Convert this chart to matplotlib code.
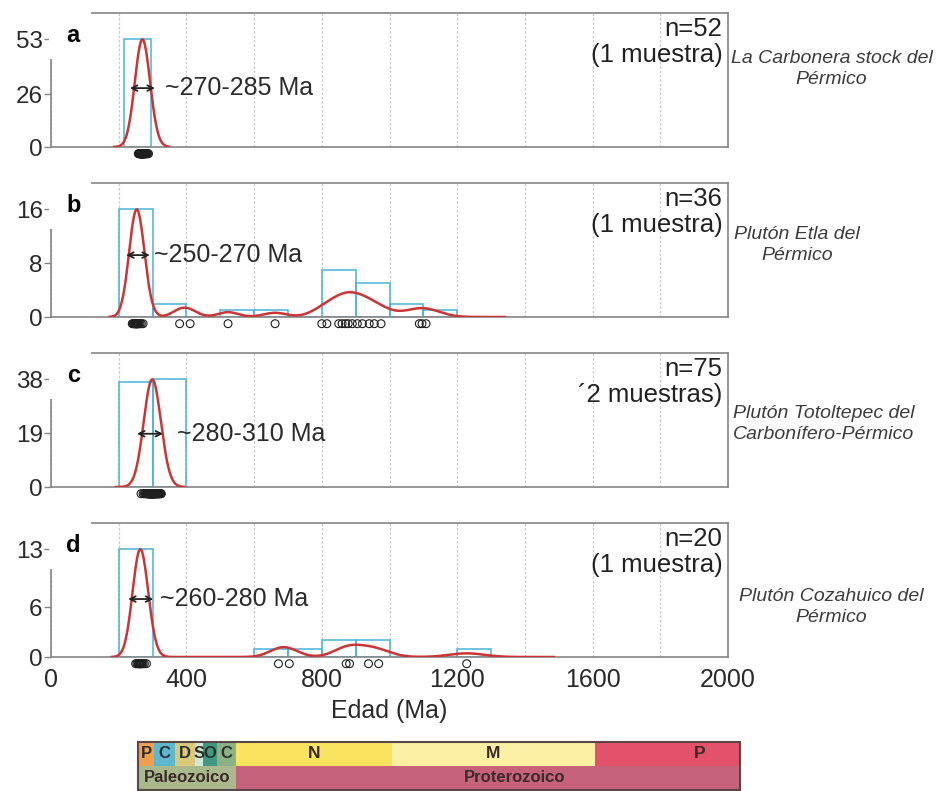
import numpy as np
import matplotlib.pyplot as plt
import matplotlib.transforms as mtransforms
from matplotlib.patches import Rectangle

plt.rcParams['font.family'] = ['Liberation Sans', 'DejaVu Sans']

# --- data ---------------------------------------------------------------
# panel a: La Carbonera stock (n=52)
a_ages = [258, 260, 261, 262, 263, 263, 264, 264, 265, 265, 265, 266, 266, 266,
          267, 267, 267, 267, 268, 268, 268, 268, 269, 269, 269, 269, 270, 270,
          270, 270, 271, 271, 271, 272, 272, 272, 273, 273, 274, 274, 275, 275,
          276, 277, 277, 278, 279, 280, 281, 283, 285, 288]
a_edges = [216, 296]
a_counts = [53]
a_yticks = [0, 26, 53]

# panel b: Pluton Etla (n=36)
b_ages = [240, 243, 245, 247, 249, 250, 251, 252, 253, 254, 255, 256, 258, 260,
          263, 267, 272, 380, 411, 523, 662, 800, 815, 850, 860, 870, 878, 890,
          905, 920, 940, 955, 975, 1088, 1096, 1108]
b_edges = [200, 300, 400, 500, 600, 700, 800, 900, 1000, 1100, 1200]
b_counts = [16, 2, 0, 1, 1, 0, 7, 5, 2, 1]
b_yticks = [0, 8, 16]

# panel c: Pluton Totoltepec (n=75)
c_ages = [266, 272, 276, 279, 281, 283, 284, 285, 286, 287, 288, 289, 289, 290,
          290, 291, 291, 292, 292, 293, 293, 293, 294, 294, 294, 295, 295, 295,
          296, 296, 296, 297, 297, 297, 298, 298, 299,
          300, 300, 300, 301, 301, 301, 302, 302, 302, 303, 303, 303, 304, 304,
          305, 305, 306, 306, 307, 307, 308, 308, 309, 310, 310, 311, 312, 313,
          314, 315, 316, 317, 318, 319, 320, 322, 324, 326]
c_edges = [200, 300, 400]
c_counts = [37, 38]
c_yticks = [0, 19, 38]

# panel d: Pluton Cozahuico (n=20)
d_ages = [250, 254, 257, 259, 261, 262, 264, 265, 267, 269, 272, 276, 282,
          672, 704, 872, 882, 938, 968, 1228]
d_edges = [200, 300, 400, 500, 600, 700, 800, 900, 1000, 1100, 1200, 1300]
d_counts = [13, 0, 0, 0, 1, 1, 2, 2, 0, 0, 1]
d_yticks = [0, 6, 13]

letters = ['a', 'b', 'c', 'd']
n_labels = ['n=52', 'n=36', 'n=75', 'n=20']
sample_labels = ['(1 muestra)', '(1 muestra)', '´2 muestras)', '(1 muestra)']
unit_labels = ['La Carbonera stock del\nPérmico',
               'Plutón Etla del\nPérmico',
               'Plutón Totoltepec del\nCarbonífero-Pérmico',
               'Plutón Cozahuico del\nPérmico']
range_labels = ['~270-285 Ma', '~250-270 Ma', '~280-310 Ma', '~260-280 Ma']

# geologic time scale (Ma)
period_names = ['P', 'C', 'D', 'S', 'O', 'C']
period_bounds = [252, 299, 359, 419, 444, 485, 541]
period_colors = ['#f0a04b', '#5bb8d0', '#d9c978', '#cfe8d9', '#3f9b80', '#8cb184']
era_names = ['N', 'M', 'P']
era_bounds = [541, 1000, 1600, 2030]
era_label_at = [770, 1300, 1910]
era_colors = ['#f9e35f', '#fbf0a3', '#e3526a']
eon_names = ['Paleozoico', 'Proterozoico']
eon_bounds = [252, 541, 2030]
eon_label_at = [396, 1365]
eon_colors = ['#a9b98b', '#c6637a']

panels = [
    (a_ages, a_edges, a_counts, a_yticks),
    (b_ages, b_edges, b_counts, b_yticks),
    (c_ages, c_edges, c_counts, c_yticks),
    (d_ages, d_edges, d_counts, d_yticks),
]
# arrow (x0, x1, y) and text x for the age-range annotation
arrows = [(233, 307, 29, 337), (222, 292, 9.2, 303), (254, 331, 18.8, 372), (228, 302, 7, 322)]
# italic unit label centre, in axes fraction
unit_pos = [(1.153, 0.58), (1.102, 0.54), (1.141, 0.47), (1.153, 0.37)]


def kde_curve(ages, npts=600):
    # adaptive gaussian kernels, wider for older grains
    ages = np.asarray(ages, dtype=float)
    grid = np.linspace(0.72 * ages.min(), 1.21 * ages.max(), npts)
    sig = 13 + 0.032 * ages
    dens = np.exp(-0.5 * ((grid[:, None] - ages[None, :]) / sig) ** 2) / sig
    return grid, dens.sum(axis=1)


W, H = 936, 791
fig = plt.figure(figsize=(W / 100, H / 100), dpi=100)


def px_axes(left, top, width, height):
    return fig.add_axes([left / W, 1 - (top + height) / H, width / W, height / H])


frame_col = '#858585'
for i, (ages, edges, counts, yticks) in enumerate(panels):
    ax = px_axes(51, 13 + 170 * i, 677, 134)
    ax.set_xlim(0, 2000)
    ax.set_ylim(0, yticks[-1] * 1.245)

    edges = np.asarray(edges)
    ax.bar(edges[:-1], counts, width=np.diff(edges), align='edge', fill=False,
           edgecolor='#46b4d8', linewidth=1.1, zorder=2)

    gx, gy = kde_curve(ages)
    ax.plot(gx, gy / gy.max() * max(counts), color='#cc3535', lw=1.8, zorder=3)

    trans = mtransforms.blended_transform_factory(ax.transData, ax.transAxes)
    ax.scatter(ages, np.full(len(ages), -0.05), transform=trans, s=32,
               facecolors='none', edgecolors='#1e1e1e', linewidths=0.8,
               clip_on=False, zorder=4)

    x0, x1, ya, xt = arrows[i]
    ax.annotate('', xy=(x1, ya), xytext=(x0, ya),
                arrowprops=dict(arrowstyle='<->', color='#222222', lw=1.3,
                                shrinkA=0, shrinkB=0), zorder=5)
    ax.text(xt, ya, range_labels[i], fontsize=18, color='#2b2b2b',
            ha='left', va='center')

    ax.text(0.992, 0.88, n_labels[i], transform=ax.transAxes, fontsize=18.5,
            ha='right', va='center', color='#222222')
    ax.text(0.992, 0.69, sample_labels[i], transform=ax.transAxes, fontsize=18.5,
            ha='right', va='center', color='#222222')
    ux, uy = unit_pos[i]
    ax.text(ux, uy, unit_labels[i], transform=ax.transAxes, fontsize=14,
            style='italic', color='#3c3c3c', ha='center', va='center',
            linespacing=1.3, multialignment='center')

    # white box with the panel letter
    ax.add_patch(Rectangle((-0.003, 0.655), 0.062, 0.36, transform=ax.transAxes,
                           facecolor='white', edgecolor='none', clip_on=False, zorder=6))
    ax.text(0.033, 0.83, letters[i], transform=ax.transAxes, fontsize=17,
            fontweight='bold', ha='center', va='center', zorder=7)

    for s in ax.spines.values():
        s.set_color(frame_col)
        s.set_linewidth(1.2)
    ax.set_yticks(yticks)
    ax.tick_params(axis='y', length=5, width=1, color=frame_col, pad=1,
                   labelsize=17.5, labelcolor='#2a2a2a')
    ax.set_xticks(np.arange(0, 2001, 400))
    ax.set_xticks(np.arange(0, 2001, 200), minor=True)
    ax.tick_params(axis='x', which='both', length=0, pad=8, labelsize=18,
                   labelcolor='#2a2a2a')
    ax.grid(True, which='both', axis='x', color='#c8c8c8', lw=0.9, ls=(0, (2, 1.5)))
    ax.set_axisbelow(True)
    if i < 3:
        ax.tick_params(axis='x', labelbottom=False)
    else:
        ax.set_xlabel('Edad (Ma)', fontsize=18, color='#2a2a2a', labelpad=5)

# time scale bar
ts = px_axes(53, 742, 677, 48)
ts.set_xlim(0, 2000)
ts.set_ylim(0, 1)
ts.axis('off')
for k, name in enumerate(period_names):
    s, e = period_bounds[k], period_bounds[k + 1]
    ts.add_patch(Rectangle((s, 0.5), e - s, 0.5, facecolor=period_colors[k],
                           edgecolor='none', clip_on=False))
    ts.text((s + e) / 2, 0.75, name, ha='center', va='center', fontsize=12,
            fontweight='bold', color='#2e2e2e')
for k, name in enumerate(era_names):
    s, e = era_bounds[k], era_bounds[k + 1]
    ts.add_patch(Rectangle((s, 0.5), e - s, 0.5, facecolor=era_colors[k],
                           edgecolor='none', clip_on=False))
    ts.text(era_label_at[k], 0.75, name, ha='center', va='center', fontsize=12.5,
            fontweight='bold', color='#3a2a2a')
for k, name in enumerate(eon_names):
    s, e = eon_bounds[k], eon_bounds[k + 1]
    ts.add_patch(Rectangle((s, 0), e - s, 0.5, facecolor=eon_colors[k],
                           edgecolor='none', clip_on=False))
    ts.text(eon_label_at[k], 0.25, name, ha='center', va='center', fontsize=12,
            fontweight='bold', color='#3a2a2a')
ts.add_patch(Rectangle((eon_bounds[0], 0), eon_bounds[-1] - eon_bounds[0], 1,
                       fill=False, edgecolor='#5a4646', lw=1.5, clip_on=False))

fig.savefig('out.png', dpi=100, facecolor='white')
